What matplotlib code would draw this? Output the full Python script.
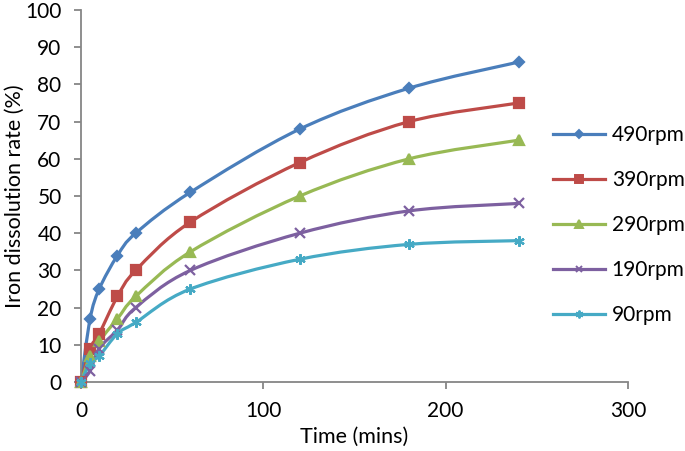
import numpy as np
import matplotlib
matplotlib.use("Agg")
import matplotlib.pyplot as plt
from matplotlib.path import Path
from matplotlib.patches import PathPatch
from matplotlib.lines import Line2D

plt.rcParams["font.family"] = ["Lato", "DejaVu Sans"]

time_mins = [0, 5, 10, 20, 30, 60, 120, 180, 240]
rpm_490 = [0, 17, 25, 34, 40, 51, 68, 79, 86]
rpm_390 = [0, 9, 13, 23, 30, 43, 59, 70, 75]
rpm_290 = [0, 7, 11, 17, 23, 35, 50, 60, 65]
rpm_190 = [0, 3, 9, 14, 20, 30, 40, 46, 48]
rpm_90 = [0, 5, 7, 13, 16, 25, 33, 37, 38]

series = [
    ("490rpm", rpm_490, "#4A7EBB", "D", 5.5),
    ("390rpm", rpm_390, "#BE4B48", "s", 7.5),
    ("290rpm", rpm_290, "#98B954", "^", 7.5),
    ("190rpm", rpm_190, "#7D60A0", "x", 6.5),
    ("90rpm", rpm_90, "#46AAC5", (6, 2, 0), 7.5),
]


def smooth_path(ax, xs, ys):
    # Catmull-Rom style bezier through the points (like Excel smoothed lines),
    # built in display space so the curve shape doesn't depend on data units
    pts = ax.transData.transform(np.column_stack([xs, ys]))
    verts = [pts[0]]
    codes = [Path.MOVETO]
    n = len(pts)
    for i in range(n - 1):
        p0 = pts[max(i - 1, 0)]
        p1 = pts[i]
        p2 = pts[i + 1]
        p3 = pts[min(i + 2, n - 1)]
        c1 = p1 + (p2 - p0) / 6.0
        c2 = p2 - (p3 - p1) / 6.0
        verts += [c1, c2, p2]
        codes += [Path.CURVE4] * 3
    return Path(verts, codes)


fig = plt.figure(figsize=(6.85, 4.51), dpi=100)
ax = fig.add_axes([81 / 685, 1 - 382 / 451, (628 - 81) / 685, (382 - 10) / 451])
ax.set_xlim(0, 300)
ax.set_ylim(0, 100)

for label, ys, color, marker, ms in series:
    path = smooth_path(ax, time_mins, ys)
    patch = PathPatch(path, facecolor="none", edgecolor=color, lw=2.3,
                      transform=None, zorder=2, clip_on=False)
    ax.add_artist(patch)
    ax.plot(time_mins, ys, linestyle="none", color=color,
            marker=marker, markersize=ms, markeredgewidth=1.6,
            label=label, zorder=3, clip_on=False)

# legend entries: line + marker
proxies = [Line2D([], [], color=c, lw=2.3, marker=m,
                  markersize=ms * 0.75, markeredgewidth=1.4)
           for _, _, c, m, ms in series]
fig.legend(proxies, [s[0] for s in series], loc="upper left",
           bbox_to_anchor=(545 / 685, 1 - 117 / 451), frameon=False,
           fontsize=15, labelspacing=1.2, handlelength=2.5,
           handletextpad=0.3, borderaxespad=0, borderpad=0.4)

ax.set_xticks([0, 100, 200, 300])
ax.set_yticks(np.arange(0, 101, 10))
ax.tick_params(labelsize=15, length=5, color="#868686", width=1.3)
ax.tick_params(axis="x", pad=9)
ax.tick_params(axis="y", pad=9)
for s in ["top", "right"]:
    ax.spines[s].set_visible(False)
for s in ["left", "bottom"]:
    ax.spines[s].set_color("#868686")
    ax.spines[s].set_linewidth(1.3)

ax.set_xlabel("Time (mins)", fontsize=15.5, labelpad=4)
ax.set_ylabel("Iron dissolution rate (%)", fontsize=15.5, labelpad=0)

fig.savefig("out.png", dpi=100)
